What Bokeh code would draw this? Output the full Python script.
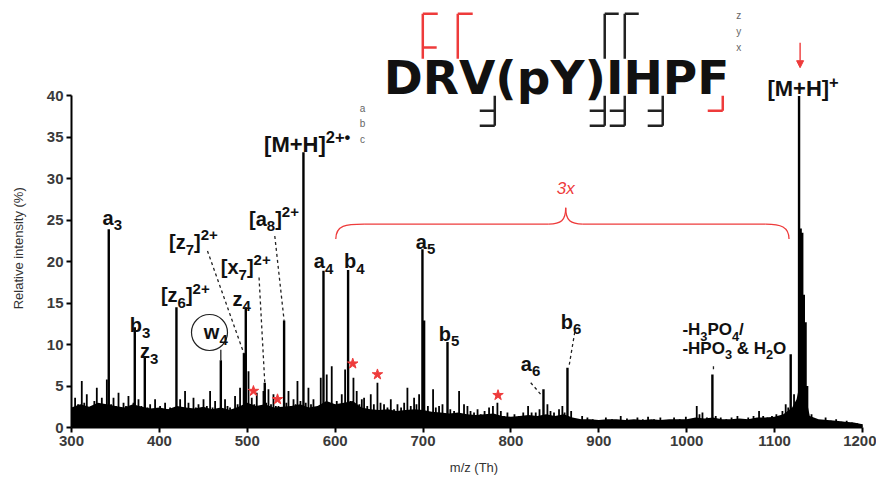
from bokeh.plotting import figure
from bokeh.models import Range1d, FixedTicker, Arrow, NormalHead, ColumnDataSource
from bokeh.embed import file_html
from bokeh.resources import INLINE
from bokeh.core.properties import value, field

# ---------------- data ----------------
x_ticks = [300, 400, 500, 600, 700, 800, 900, 1000, 1100, 1200]
y_ticks = [0, 5, 10, 15, 20, 25, 30, 35, 40]

# assigned fragment peaks (m/z, relative intensity %)
ion_mz = [342.4, 372.0, 383.4, 419.4, 469.9, 496.2, 498.3, 519.9, 541.9, 563.9,
          586.7, 614.7, 699.3, 701.2, 727.8, 837.0, 864.3, 1029.2, 1118.3,
          1127.8, 1129.6, 1131.4, 1133.2, 1135.2, 1137.0]
ion_int = [23.9, 12.1, 8.4, 14.5, 8.1, 9.0, 14.5, 5.4, 12.9, 33.2,
           18.9, 19.0, 21.5, 12.9, 10.3, 4.6, 7.2, 6.4, 8.85,
           40.0, 24.0, 23.5, 16.0, 12.7, 5.0]

# unassigned / noise peaks
noise_mz = [304.1, 307.5, 311.7, 314.5, 317.4, 320.5, 323.0, 326.0, 328.8, 331.5, 334.5, 337.5, 340.2, 345.0,
            347.8, 350.5, 353.5, 356.5, 359.2, 362.0, 364.8, 367.5, 370.5, 376.2, 379.5, 386.5, 389.5,
            392.5, 395.1, 398.0, 400.8, 403.5, 406.5, 409.5, 412.2, 415.5, 423.6, 426.5, 429.2, 433.1,
            436.0, 438.8, 441.5, 444.5, 447.5, 450.2, 454.0, 457.7, 460.5, 463.4, 466.5, 474.7, 477.5,
            480.4, 483.0, 486.1, 489.0, 491.8, 501.4, 505.1, 508.0, 510.8, 514.5, 518.4, 521.5, 524.1,
            527.0, 529.8, 532.5, 535.5, 538.5, 544.5, 546.9, 549.5, 552.6, 555.0, 557.1, 560.5, 566.5,
            569.6, 572.5, 575.3, 578.0, 581.0, 583.6, 590.4, 593.0, 596.1, 599.0, 601.8, 604.5, 607.5,
            611.3, 617.5, 620.8, 624.5, 627.5, 630.3, 632.9, 636.5, 640.5, 644.0, 648.1, 651.6, 655.6,
            659.5, 663.3, 667.0, 670.9, 675.0, 678.5, 682.2, 686.0, 689.8, 692.5, 695.5, 705.5, 711.4,
            714.5, 718.2, 722.1, 731.0, 735.3, 741.0, 746.6, 750.5, 754.0, 758.0, 762.0, 765.6, 770.0,
            775.1, 779.5, 784.6, 788.5, 792.1, 796.0, 799.8, 804.0, 809.2, 814.0, 819.5, 823.5, 828.2,
            832.5, 841.5, 845.0, 849.0, 854.7, 858.5, 861.0, 868.5, 875.6, 881.0, 887.0, 893.0, 902.2,
            908.0, 915.0, 924.9, 932.0, 938.0, 943.9, 950.0, 956.0, 962.8, 970.0, 978.0, 985.6, 992.0,
            999.0, 1005.0, 1011.4, 1014.5, 1017.9, 1023.0, 1033.0, 1038.7, 1045.0, 1051.0, 1057.7,
            1064.0, 1070.0, 1076.0, 1082.3, 1087.0, 1091.8, 1097.0, 1102.0, 1108.9, 1112.6, 1115.5,
            1122.1, 1124.5, 1138.4, 1142.0, 1147.0, 1152.0, 1158.0, 1164.0, 1170.0, 1176.0, 1182.0,
            1188.0, 1194.0, 1199.0]
noise_int = [3.6, 2.8, 5.6, 3.0, 4.0, 2.4, 2.6, 3.2, 4.8, 2.8, 3.6, 2.6, 5.8, 2.8,
             3.6, 2.6, 4.2, 2.4, 3.0, 2.6, 3.8, 2.4, 3.0, 3.4, 2.6, 2.4, 2.8,
             2.2, 3.4, 2.2, 2.6, 2.0, 3.0, 2.2, 2.4, 2.0, 3.4, 2.4, 4.4, 3.0,
             2.2, 3.6, 2.4, 2.8, 2.2, 3.4, 2.6, 4.4, 2.4, 3.2, 2.2, 3.4, 2.6,
             2.4, 2.2, 3.8, 2.8, 4.8, 6.8, 3.6, 2.8, 4.2, 2.6, 4.4, 3.0, 4.6,
             2.8, 4.0, 2.6, 2.6, 2.4, 3.0, 4.4, 2.6, 3.4, 2.8, 5.6, 3.2, 3.0,
             4.8, 2.8, 3.4, 2.4, 2.6, 6.0, 6.4, 3.0, 7.4, 2.8, 3.2, 2.6, 4.0,
             7.0, 3.2, 6.0, 4.4, 2.8, 3.4, 3.6, 2.6, 4.0, 2.8, 5.4, 3.0, 2.8,
             2.4, 3.4, 2.2, 2.8, 2.4, 3.0, 4.8, 2.6, 3.6, 2.8, 4.0, 2.6, 4.6,
             2.4, 2.6, 2.8, 2.2, 2.0, 4.4, 2.8, 2.6, 2.0, 1.8, 2.2, 1.6, 2.0,
             2.4, 2.6, 3.0, 2.0, 1.4, 1.8, 1.0, 1.6, 1.4, 1.8, 2.6, 1.8, 1.8,
             2.2, 2.8, 2.0, 1.8, 2.2, 2.6, 1.8, 2.0, 1.0, 1.4, 1.2, 1.0, 0.8,
             1.2, 1.0, 1.4, 1.1, 0.9, 1.2, 1.0, 1.3, 1.0, 1.2, 0.9, 1.2, 1.0,
             1.3, 1.0, 2.6, 1.6, 1.8, 1.2, 1.4, 1.2, 1.0, 1.2, 1.4,
             1.0, 1.2, 1.4, 2.0, 1.4, 1.2, 1.4, 1.6, 2.0, 2.8, 2.4,
             4.0, 3.0, 1.2, 1.6, 1.0, 0.9, 1.2, 0.8, 1.0, 0.7, 0.8,
             0.6, 0.5, 0.4]

# baseline (chemical noise floor)
floor_mz = [300, 310, 320, 330, 340, 350, 360, 370, 380, 390, 400, 410, 420, 430, 440, 450, 460, 470,
            480, 490, 500, 510, 520, 530, 540, 550, 560, 570, 580, 590, 600, 610, 620, 630, 640, 650,
            660, 670, 680, 690, 700, 710, 720, 730, 740, 750, 760, 770, 780, 790, 800, 810, 820, 830,
            840, 850, 860, 870, 880, 890, 900, 910, 920, 930, 940, 950, 960, 970, 980, 990, 1000, 1010,
            1020, 1030, 1040, 1050, 1060, 1070, 1080, 1090, 1100, 1110, 1120, 1125, 1130, 1135, 1140,
            1150, 1160, 1170, 1180, 1190, 1200]
floor_int = [2.4, 2.8, 2.5, 3.0, 2.8, 2.6, 2.4, 2.8, 2.5, 2.3, 2.4, 2.2, 2.6, 2.4, 2.3, 2.5, 2.2, 2.4,
             2.1, 2.5, 3.0, 2.6, 2.8, 2.4, 2.5, 2.6, 2.8, 2.4, 2.6, 3.2, 2.8, 3.0, 3.2, 2.4, 2.2, 2.1,
             2.2, 2.0, 2.1, 2.2, 2.1, 1.9, 1.8, 1.7, 1.8, 1.6, 1.5, 1.6, 1.7, 1.4, 1.3, 1.4, 1.5, 1.4,
             1.6, 1.4, 1.6, 1.2, 1.0, 1.0, 0.9, 1.0, 1.0, 0.9, 1.0, 0.9, 1.0, 0.9, 1.0, 1.0, 1.0, 1.2,
             1.1, 1.2, 1.0, 1.0, 1.1, 1.0, 1.2, 1.2, 1.3, 1.6, 2.4, 3.4, 6.0, 4.0, 1.4,
             1.0, 0.9, 0.8, 0.7, 0.6, 0.4]

# peaks marked with a red asterisk
star_mz = [507.0, 534.4, 620.0, 648.1, 785.3]
star_int = [4.4, 3.4, 7.7, 6.4, 3.9]

# peak annotations: (anchor m/z, anchor intensity, font px, [(text, role)])
LABELS = [
    (335.3, 24.45, 20, [("a", "n"), ("3", "sub")]),
    (366.3, 11.46, 20, [("b", "n"), ("3", "sub")]),
    (378.0, 8.30, 20, [("z", "n"), ("3", "sub")]),
    (401.7, 15.08, 20, [("[z", "n"), ("6", "sub"), ("]", "n"), ("2+", "sup")]),
    (450.6, 10.66, 20, [("w", "n"), ("4", "sub")]),
    (483.3, 14.68, 20, [("z", "n"), ("4", "sub")]),
    (411.0, 21.52, 20, [("[z", "n"), ("7", "sub"), ("]", "n"), ("2+", "sup")]),
    (469.9, 18.50, 20, [("[x", "n"), ("7", "sub"), ("]", "n"), ("2+", "sup")]),
    (502.0, 24.33, 20, [("[a", "n"), ("8", "sub"), ("]", "n"), ("2+", "sup")]),
    (519.1, 33.17, 22, [("[M+H]", "n"), ("2+•", "sup")]),
    (575.7, 19.23, 20, [("a", "n"), ("4", "sub")]),
    (610.1, 19.23, 20, [("b", "n"), ("4", "sub")]),
    (691.7, 21.56, 20, [("a", "n"), ("5", "sub")]),
    (717.9, 10.46, 20, [("b", "n"), ("5", "sub")]),
    (811.2, 6.84, 20, [("a", "n"), ("6", "sub")]),
    (856.7, 11.90, 20, [("b", "n"), ("6", "sub")]),
    (995.1, 11.06, 17, [("-H", "n"), ("3", "sub"), ("PO", "n"), ("4", "sub"), ("/", "n")]),
    (995.1, 8.85, 17, [("-HPO", "n"), ("3", "sub"), (" ", "gap"), ("&", "n"), (" ", "gap"),
                       ("H", "n"), ("2", "sub"), ("O", "n")]),
    (1091.8, 39.89, 22, [("[M+H]", "n"), ("+", "sup")]),
]

# dashed leader lines (from label to peak)
lead_x0 = [454.7, 513.4, 531.3, 822.5, 872.6, 1030.4]
lead_y0 = [21.3, 18.1, 23.1, 5.4, 11.5, 7.4]
lead_x1 = [496.4, 519.9, 541.9, 833.9, 866.1, 1030.4]
lead_y1 = [8.85, 5.4, 12.9, 4.0, 7.4, 6.8]

sequence = "DRV(pY)IHPF"
x_title = "m/z (Th)"
y_title = "Relative intensity (%)"

# ---------------- figure ----------------
FIG_W, FIG_H = 876, 478
LEFT, BOTTOM = 71, 51
FRAME_W = FIG_W - LEFT
FRAME_H = FIG_H - BOTTOM
PX_MZ = 0.8789
PX_INT = 8.29
X_END = 300 + FRAME_W / PX_MZ
Y_END = FRAME_H / PX_INT
BASE = 0.36  # em correction so that the alphabetic baseline lands where intended

RED = "#ee3b3b"
INK = "#111111"

p = figure(width=FIG_W, height=FIG_H, x_range=Range1d(300, X_END), y_range=Range1d(0, Y_END),
           output_backend="svg", toolbar_location=None,
           min_border_left=LEFT, min_border_right=0, min_border_top=0, min_border_bottom=BOTTOM)
p.outline_line_color = None
p.grid.visible = False
p.background_fill_color = "white"
p.border_fill_color = "white"

for ax, ticks, bnds in ((p.xaxis, x_ticks, (300, 1200)), (p.yaxis, y_ticks, (0, 40))):
    ax.ticker = FixedTicker(ticks=ticks)
    ax.bounds = bnds
    ax.axis_line_width = 2
    ax.axis_line_color = "#000000"
    ax.major_tick_line_width = 2
    ax.major_tick_line_color = "#000000"
    ax.major_tick_out = 5
    ax.major_tick_in = 0
    ax.minor_tick_line_color = None
    ax.major_label_text_font = "Liberation Sans"
    ax.major_label_text_font_size = "15px"
    ax.major_label_text_font_style = "bold"
    ax.major_label_text_color = "#3a3a3a"
    ax.major_label_standoff = 3
    ax.axis_label_text_font = "Liberation Sans"
    ax.axis_label_text_font_size = "13px"
    ax.axis_label_text_font_style = "normal"
    ax.axis_label_text_color = "#333333"
p.xaxis.axis_label = x_title
p.xaxis.axis_label_standoff = 11
# trailing no-break spaces move the centred title down to the middle of the 0-40 axis
p.yaxis.axis_label = y_title + "\u00a0" * 19
p.yaxis.axis_label_standoff = 18

# spectrum
p.varea(x=floor_mz, y1=[0] * len(floor_mz), y2=floor_int, fill_color="#000000")
p.segment(x0=noise_mz, y0=[0] * len(noise_mz), x1=noise_mz, y1=noise_int,
          line_color="#000000", line_width=1.8)
p.segment(x0=ion_mz, y0=[0] * len(ion_mz), x1=ion_mz, y1=ion_int,
          line_color="#000000", line_width=2.4)

# asterisks
p.scatter(x=star_mz, y=star_int, marker="star", size=11, fill_color=RED, line_color=RED)

# leader lines
p.segment(x0=lead_x0, y0=lead_y0, x1=lead_x1, y1=lead_y1,
          line_color="#222222", line_width=1.3, line_dash="3 3")
# w4 circle and stem
p.scatter(x=[457.0], y=[11.46], marker="circle", size=36, fill_color=None,
          line_color="#222222", line_width=1.2)
p.segment(x0=[469.9], y0=[9.37], x1=[469.9], y1=[8.1], line_color="#222222", line_width=1.3)

# peak labels with sub/superscripts (Arial-bold advance widths)
W = {'a': .556, 'b': .611, 'c': .556, 'z': .5, 'w': .778, 'x': .556, '[': .333, ']': .333,
     '+': .584, 'M': .833, 'H': .722, '-': .333, 'P': .667, 'O': .778, '/': .278,
     '&': .722, ' ': .278, '•': .35}
sx, sy, st, sf = [], [], [], []
for lx, ly, size, parts in LABELS:
    cur = 0.0
    for txt, role in parts:
        if role == "gap":
            cur += W[' '] * size
            continue
        fs = size * 0.75 if role != "n" else size
        dy = {"n": 0.0, "sub": -0.3 * size, "sup": 0.42 * size}[role]
        sx.append(lx + cur / PX_MZ)
        sy.append(ly + (dy + BASE * fs) / PX_INT)
        st.append(txt)
        sf.append("%.1fpx" % fs)
        cur += sum(W.get(c, .556) for c in txt) * fs
src = ColumnDataSource(dict(x=sx, y=sy, t=st, fs=sf))
p.text(x="x", y="y", text="t", source=src, text_font=value("Liberation Sans"),
       text_font_style="bold", text_font_size=field("fs"), text_color=INK,
       text_align="left", text_baseline="alphabetic")

# red brace "3x"
p.bezier(x0=[600.7, 843.0, 862.3, 1089.9], y0=[22.73, 24.54, 26.5, 24.54],
         x1=[632.9, 862.3, 881.7, 1116.4], y1=[24.54, 26.5, 24.54, 22.73],
         cx0=[600.7, 856.7, 862.3, 1107.0], cy0=[24.4, 24.54, 24.93, 24.54],
         cx1=[612.1, 862.3, 868.0, 1116.4], cy1=[24.54, 24.93, 24.54, 24.2],
         line_color=RED, line_width=1.3)
p.segment(x0=[632.9, 881.7], y0=[24.54, 24.54], x1=[843.0, 1089.9], y1=[24.54, 24.54],
          line_color=RED, line_width=1.3)
p.text(x=[862.3], y=[28.78], text=["3x"], text_font=value("Liberation Sans"),
       text_font_style="italic", text_font_size="17px", text_color=RED,
       text_align="center", text_baseline="middle")

# red arrow onto precursor
p.add_layout(Arrow(end=NormalHead(size=7, line_color=RED, fill_color=RED),
                   x_start=1129.0, y_start=46.4, x_end=1129.0, y_end=43.4,
                   line_color=RED, line_width=1.4))

# peptide sequence with fragmentation map
p.text(x=[655.3], y=[40.22 + BASE * 47 / PX_INT], text=[sequence], text_font=value("DejaVu Sans"),
       text_font_style="bold", text_font_size="47px", text_color=INK,
       text_align="left", text_baseline="alphabetic")
# top (z / y / x) markers
top_v = [(699.7, RED), (739.5, RED), (906.7, "#222222"), (929.5, "#222222")]
for xv, col in top_v:
    p.segment(x0=[xv], y0=[49.90], x1=[xv], y1=[44.47], line_color=col, line_width=2.5)
p.segment(x0=[699.7, 739.5, 906.7, 929.5, 699.7], y0=[49.90, 49.90, 49.90, 49.90, 45.84],
          x1=[716.7, 756.5, 922.6, 945.4, 715.5], y1=[49.90, 49.90, 49.90, 49.90, 45.84],
          line_color=[RED, RED, "#222222", "#222222", RED], line_width=2.5)
# bottom (a / b / c) markers
bot = [(781.6, 764.5), (906.7, 889.6), (929.5, 912.4), (972.7, 955.6)]
for xv, xl in bot:
    p.segment(x0=[xv], y0=[40.01], x1=[xv], y1=[36.39], line_color="#222222", line_width=2.5)
    p.segment(x0=[xl, xl], y0=[38.20, 36.39], x1=[xv, xv], y1=[38.20, 36.39],
              line_color="#222222", line_width=2.5)
p.segment(x0=[1041.0], y0=[40.01], x1=[1041.0], y1=[38.20], line_color=RED, line_width=2.5)
p.segment(x0=[1023.9], y0=[38.20], x1=[1041.0], y1=[38.20], line_color=RED, line_width=2.5)
# ion-type keys
p.text(x=[631.1] * 3, y=[38.44, 36.63, 34.70], text=["a", "b", "c"],
       text_font=value("Liberation Sans"), text_font_size="10px", text_color="#666666",
       text_align="center", text_baseline="middle")
p.text(x=[1059.2] * 3, y=[49.66, 47.73, 45.80], text=["z", "y", "x"],
       text_font=value("Liberation Sans"), text_font_size="10px", text_color="#666666",
       text_align="center", text_baseline="middle")

open("out.html", "w").write(file_html(p, INLINE))
